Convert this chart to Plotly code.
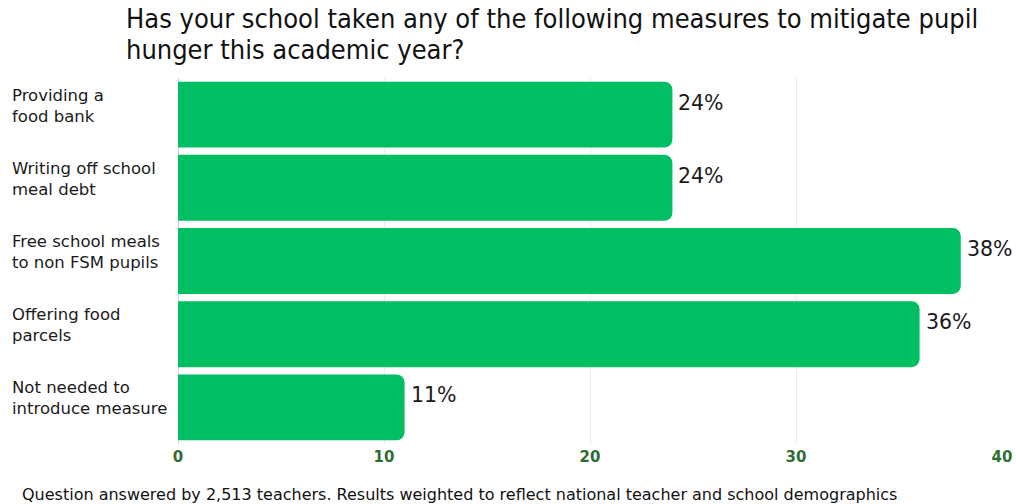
import plotly.graph_objects as go

categories = ["Providing a<br>food bank", "Writing off school<br>meal debt",
              "Free school meals<br>to non FSM pupils", "Offering food<br>parcels",
              "Not needed to<br>introduce measure"]
values = [24, 24, 38, 36, 11]
value_labels = ["24%", "24%", "38%", "36%", "11%"]
x_ticks = [0, 10, 20, 30, 40]

title_lines = ["Has your school taken any of the following measures to mitigate pupil",
               "hunger this academic year?"]
footer_text = "Question answered by 2,513 teachers. Results weighted to reflect national teacher and school demographics"

GREEN = "#00BF63"
TICK_GREEN = "#2F6E33"
FONT = "DejaVu Sans, sans-serif"
TITLE_FONT = "Liberation Sans Narrow, DejaVu Sans Condensed, sans-serif"

fig = go.Figure()
fig.add_trace(go.Bar(
    x=values, y=categories, orientation="h",
    marker=dict(color=GREEN, line=dict(width=0)),
    hoverinfo="skip",
))

annotations = []
for c, v, lab in zip(categories, values, value_labels):
    annotations.append(dict(
        x=v, y=c, xref="x", yref="y", text=lab, showarrow=False,
        xanchor="left", yanchor="middle", xshift=4, yshift=12,
        font=dict(family=FONT, size=20.5, color="#1a1a1a"),
    ))
    annotations.append(dict(
        x=-0.204, y=c, xref="paper", yref="y", text=c, showarrow=False,
        xanchor="left", yanchor="middle", align="left", yshift=9,
        font=dict(family=FONT, size=16.5, color="#1a1a1a"),
    ))

annotations.append(dict(
    x=-0.1917, y=-0.139, xref="paper", yref="paper", text=footer_text, showarrow=False,
    xanchor="left", yanchor="middle",
    font=dict(family=FONT, size=16, color="#111111"),
))

for line, ypos in zip(title_lines, [1.162, 1.078]):
    annotations.append(dict(
        x=-0.0655, y=ypos, xref="paper", yref="paper", text=line, showarrow=False,
        xanchor="left", yanchor="middle", align="left",
        font=dict(family=TITLE_FONT, size=27, color="#111111"),
    ))

fig.update_layout(
    width=1016, height=504,
    margin=dict(l=178, r=14, t=78, b=60),
    paper_bgcolor="white", plot_bgcolor="white",
    bargap=0.1,
    barcornerradius=8,
    showlegend=False,
    xaxis=dict(
        range=[0, 40], tickvals=x_ticks, ticktext=[str(t) for t in x_ticks],
        automargin=False, ticklabeloverflow="allow",
        showgrid=True, gridcolor="#EBEBEB", gridwidth=1,
        zeroline=True, zerolinecolor="#D8D8D8", zerolinewidth=1,
        showline=False, ticks="", ticklabelstandoff=2,
        tickfont=dict(family=FONT, size=15, color=TICK_GREEN, weight="bold"),
        fixedrange=True,
    ),
    yaxis=dict(
        autorange="reversed", showticklabels=False, showgrid=False,
        automargin=False,
        zeroline=False, showline=False, ticks="", fixedrange=True,
    ),
    annotations=annotations,
)

fig.write_html("out.html")
